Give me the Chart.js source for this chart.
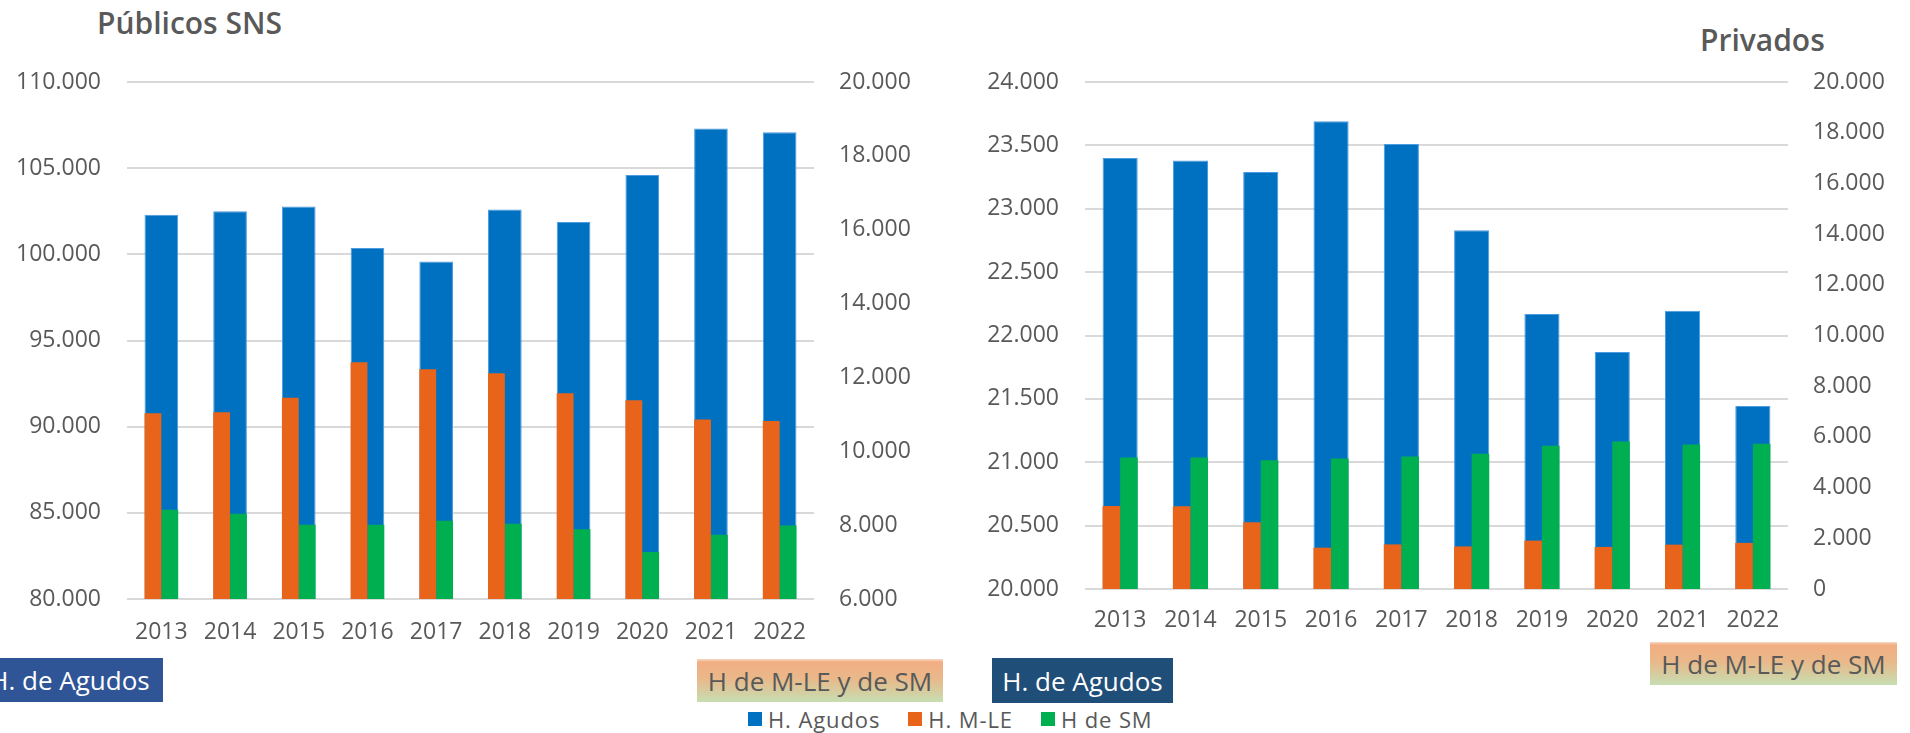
<!DOCTYPE html>
<html lang="es">
<head>
<meta charset="utf-8">
<script src="https://cdn.jsdelivr.net/npm/chart.js@4.4.1/dist/chart.umd.min.js"></script>
<style>
  html, body { margin: 0; padding: 0; background: #ffffff; }
  body { width: 1910px; height: 733px; position: relative; overflow: hidden; font-family: "Open Sans", sans-serif; }
  canvas { position: absolute; top: 0; }
  .title { position: absolute; font-size: 30px; font-weight: 600; color: #595959; line-height: 1; white-space: nowrap; }
  .box { position: absolute; font-size: 26px; display: flex; align-items: center; justify-content: center; white-space: nowrap; }
  .agudos { color: #ffffff; }
  .mle { color: #595959; background: linear-gradient(to bottom, #f7d9c6 0px, #f2ae82 3px, #e9b88a 45%, #c6deb1 100%); }
  .legend { position: absolute; top: 704px; left: 748px; display: flex; align-items: center; font-size: 22px; color: #595959; white-space: nowrap; letter-spacing: 0.9px; }
  .legend span.sw { display: inline-block; width: 14px; height: 14px; margin-right: 6px; }
  .legend .item { display: flex; align-items: center; margin-right: 28px; }
</style>
</head>
<body>
<div class="title" style="left:97px; top:8px;">Públicos SNS</div>
<div class="title" style="left:1700px; top:25px;">Privados</div>

<canvas id="left" width="960" height="650" style="left:0px;"></canvas>
<canvas id="right" width="950" height="650" style="left:960px;"></canvas>

<div class="box agudos" style="left:-24px; top:658px; width:187px; height:44px; background:#2f5597;">H. de Agudos</div>
<div class="box mle" style="left:697px; top:659px; width:246px; height:43px;">H de M-LE y de SM</div>
<div class="box agudos" style="left:992px; top:658px; width:181px; height:45px; background:#1f4e79;">H. de Agudos</div>
<div class="box mle" style="left:1650px; top:642px; width:247px; height:43px;">H de M-LE y de SM</div>

<div class="legend">
  <div class="item"><span class="sw" style="background:#0070c0"></span>H. Agudos</div>
  <div class="item"><span class="sw" style="background:#e8641b"></span>H. M-LE</div>
  <div class="item"><span class="sw" style="background:#00b050"></span>H de SM</div>
</div>

<script>
// ---- Data ----
const years = ["2013", "2014", "2015", "2016", "2017", "2018", "2019", "2020", "2021", "2022"];

const seriesNames = ["H. Agudos", "H. M-LE", "H de SM"];

// Públicos SNS
const publicAgudos = [102300, 102500, 102770, 100370, 99580, 102600, 101880, 104600, 107300, 107090];
const publicMLE    = [11030, 11060, 11450, 12410, 12220, 12110, 11570, 11380, 10860, 10820];
const publicSM     = [8415, 8310, 8010, 8010, 8120, 8040, 7890, 7270, 7740, 7990];

// Privados
const privateAgudos = [23400, 23380, 23290, 23690, 23510, 22830, 22170, 21870, 22195, 21443];
const privateMLE    = [3270, 3260, 2630, 1630, 1760, 1680, 1910, 1660, 1750, 1820];
const privateSM     = [5190, 5190, 5080, 5150, 5230, 5340, 5650, 5820, 5700, 5730];

// Axis ranges (tick labels)
const publicLeftAxis   = { min: 80000, max: 110000, step: 5000 };
const publicRightAxis  = { min: 6000,  max: 20000,  step: 2000 };
const privateLeftAxis  = { min: 20000, max: 24000,  step: 500 };
const privateRightAxis = { min: 0,     max: 20000,  step: 2000 };

// ---- Styling ----
const COLORS = { agudos: "#0070c0", mle: "#e8641b", sm: "#00b050" };
const TICK_COLOR = "#595959";
const TICK_FONT = { family: "'Open Sans', sans-serif", size: 23 };

function fmt(n) {
  return String(n).replace(/\B(?=(\d{3})+(?!\d))/g, ".");
}

function makeChart(id, agudos, mle, sm, leftAx, rightAx, geo) {
  const ctx = document.getElementById(id);
  return new Chart(ctx, {
    type: "bar",
    data: {
      labels: years,
      datasets: [
        { label: seriesNames[1], data: mle, yAxisID: "y1", backgroundColor: COLORS.mle,
          categoryPercentage: geo.pairPct, barPercentage: 1, order: 0, borderWidth: 0 },
        { label: seriesNames[2], data: sm, yAxisID: "y1", backgroundColor: COLORS.sm,
          categoryPercentage: geo.pairPct, barPercentage: 1, order: 0, borderWidth: 0 },
        { label: seriesNames[0], data: agudos, yAxisID: "y", backgroundColor: COLORS.agudos,
          grouped: false, categoryPercentage: 1, barPercentage: geo.bluePct, order: 1,
          borderWidth: { top: 1, left: 1, right: 1, bottom: 0 }, borderColor: "#4d9be0", borderSkipped: "bottom" }
      ]
    },
    options: {
      responsive: false,
      animation: false,
      events: [],
      layout: { padding: { top: geo.top, left: 0, right: 0, bottom: 0 } },
      plugins: { legend: { display: false }, title: { display: false }, tooltip: { enabled: false } },
      scales: {
        x: {
          grid: { display: false, drawTicks: false },
          border: { display: false },
          ticks: { color: TICK_COLOR, font: TICK_FONT, padding: geo.xPad, maxRotation: 0, autoSkip: false },
          afterFit: (a) => { a.height = geo.xHeight; }
        },
        y: {
          position: "left",
          min: leftAx.min, max: leftAx.max,
          grid: { color: "#d9d9d9", lineWidth: 2, drawTicks: false },
          border: { display: false },
          ticks: { stepSize: leftAx.step, color: TICK_COLOR, font: TICK_FONT, padding: geo.yPad,
                   callback: (v) => fmt(v) },
          afterFit: (a) => { a.width = geo.yWidth; }
        },
        y1: {
          position: "right",
          min: rightAx.min, max: rightAx.max,
          grid: { display: false, drawTicks: false },
          border: { display: false },
          ticks: { stepSize: rightAx.step, color: TICK_COLOR, font: TICK_FONT, padding: geo.y1Pad,
                   callback: (v) => fmt(v) },
          afterFit: (a) => { a.width = geo.y1Width; }
        }
      }
    }
  });
}

makeChart("left", publicAgudos, publicMLE, publicSM, publicLeftAxis, publicRightAxis, {
  top: 82, xHeight: 650 - 599, xPad: 20, yWidth: 127, yPad: 26, y1Width: 960 - 814, y1Pad: 25,
  bluePct: 0.49, pairPct: 0.49
});

makeChart("right", privateAgudos, privateMLE, privateSM, privateLeftAxis, privateRightAxis, {
  top: 82, xHeight: 650 - 589, xPad: 18, yWidth: 125, yPad: 26, y1Width: 950 - 828, y1Pad: 25,
  bluePct: 0.5, pairPct: 0.5
});
</script>
</body>
</html>
